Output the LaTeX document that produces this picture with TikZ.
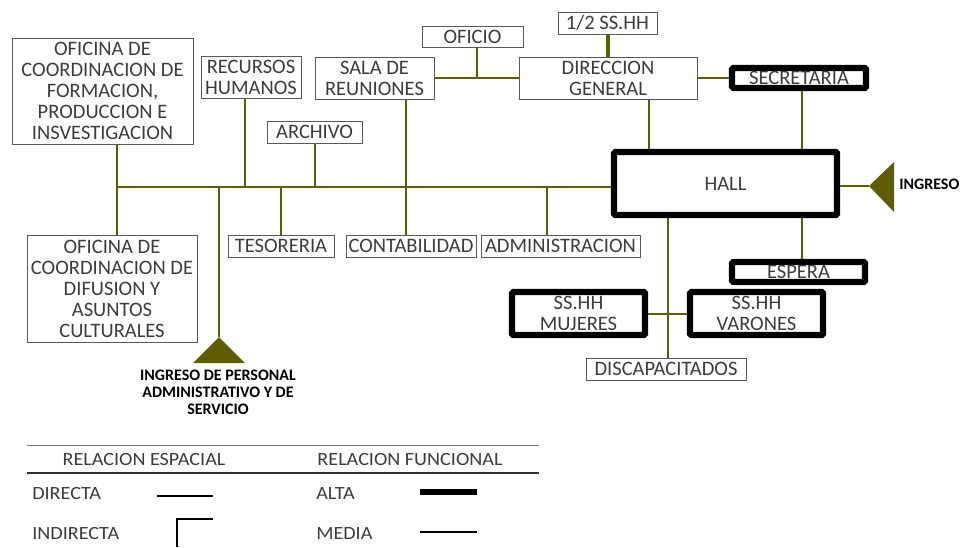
\documentclass[tikz,border=0pt]{standalone}
\usepackage{fontspec}
\setmainfont{Carlito}
\newfontfamily\legfont[FakeStretch=1.08]{Carlito}
\definecolor{oliva}{RGB}{94,94,0}
\definecolor{txt}{RGB}{60,60,60}
\begin{document}
\begin{tikzpicture}[x=0.75pt,y=-0.75pt,
  wh/.style 2 args={minimum width=#1*0.75pt,minimum height=#2*0.75pt},
  box/.style={draw=black!65,line width=0.75pt,inner sep=0pt,align=center,text=txt,
    font=\fontsize{15.4}{15.75}\selectfont},
  tbox/.style={draw=black,line width=4.6pt,rounded corners=1pt,inner sep=0pt,align=center,text=txt,
    font=\fontsize{15.4}{15.75}\selectfont},
  link/.style={draw=oliva,line width=1.5pt},
  thinlink/.style={draw=oliva,line width=1.1pt},
  biglink/.style={draw=oliva,line width=3pt},
  boldlbl/.style={inner sep=0pt,align=center,text=black,font=\bfseries\fontsize{12}{12.75}\selectfont},
  leg/.style={inner sep=0pt,anchor=west,text=txt,font=\legfont\fontsize{14}{14}\selectfont},
  leghead/.style={inner sep=0pt,text=txt,font=\legfont\fontsize{14}{14}\selectfont}
]
\useasboundingbox (0,0) rectangle (962,547);

% ---------- thin boxes ----------
\node[box,wh={181}{106}] (ofiform) at (102.5,91) {OFICINA DE\\COORDINACION DE\\FORMACION,\\PRODUCCION E\\INSVESTIGACION};
\node[box,wh={100}{42}] (rrhh) at (251,77) {RECURSOS\\HUMANOS};
\node[box,wh={95}{22}] (archivo) at (314.5,132) {ARCHIVO};
\node[box,wh={119}{42}] (sala) at (374.5,78) {SALA DE\\REUNIONES};
\node[box,wh={101}{21}] (oficio) at (472.5,36.5) {OFICIO};
\node[box,wh={99}{22}] (medioss) at (607.5,23) {1/2 SS.HH};
\node[box,wh={178}{42}] (direccion) at (608,78) {DIRECCION\\GENERAL};
\node[box,wh={170}{107}] (ofidif) at (112,288.5) {OFICINA DE\\COORDINACION DE\\DIFUSION Y\\ASUNTOS\\CULTURALES};
\node[box,wh={106}{22}] (tesoreria) at (281,246) {TESORERIA};
\node[box,wh={130}{22}] (contab) at (411,246) {CONTABILIDAD};
\node[box,wh={159}{22}] (admin) at (560.5,246) {ADMINISTRACION};
\node[box,wh={160}{22}] (discap) at (666,369) {DISCAPACITADOS};

% ---------- thick boxes ----------
\node[tbox,wh={134}{20}] (secretaria) at (799,78) {SECRETARIA};
\node[tbox,wh={223}{63}] (hall) at (725.5,183.5) {HALL};
\node[tbox,wh={133}{20}] (espera) at (798.5,272) {ESPERA};
\node[tbox,wh={133}{43}] (mujeres) at (578.5,313.5) {SS.HH\\MUJERES};
\node[tbox,wh={133}{43}] (varones) at (756.5,313.5) {SS.HH\\VARONES};

% ---------- bus coordinates ----------
\coordinate (b1) at (117,187);
\coordinate (b2) at (219,187);
\coordinate (b3) at (245,187);
\coordinate (b4) at (281,187);
\coordinate (b5) at (315,187);
\coordinate (b6) at (406,187);
\coordinate (b7) at (547,187);
\coordinate (j1) at (477,78);
\coordinate (cdh) at (649,120);
\coordinate (csh) at (802,120);
\coordinate (chd) at (668,250);
\coordinate (che) at (802,250);
\coordinate (cmv) at (668,314);

% ---------- connectors ----------
\draw[link] (b1) -- (b1 -| hall.west);
\draw[link] (ofiform.south -| b1) -- (ofidif.north -| b1);
\draw[link] (rrhh.south -| b3) -- (b3);
\draw[thinlink] (archivo.south -| b5) -- (b5);
\draw[link] (b4) -- (tesoreria.north -| b4);
\draw[thinlink] (sala.south -| b6) -- (contab.north -| b6);
\draw[thinlink] (b7) -- (admin.north -| b7);
\draw[thinlink] (sala.east) -- (direccion.west);
\draw[link] (j1) -- (oficio.south -| j1);
\draw[biglink] (medioss.south) -- (direccion.north -| medioss.south);
\draw[link] (direccion.south -| cdh) -- (hall.north -| cdh);
\draw[thinlink] (direccion.east) -- (secretaria.west);
\draw[link] (secretaria.south -| csh) -- (hall.north -| csh);
\draw[link] (hall.south -| che) -- (espera.north -| che);
\draw[link] (hall.south -| chd) -- (discap.north -| chd);
\draw[link] (mujeres.east |- cmv) -- (varones.west |- cmv);

% ---------- entrances ----------
\coordinate (tipR) at (869,186);
\coordinate (tipP) at (219,337);
\draw[link] (hall.east |- tipR) -- (tipR);
\draw[link] (b2) -- (tipP);
\fill[oliva] (tipR) -- (894,162) -- (894,212) -- cycle;
\fill[oliva] (tipP) -- (245,363) -- (193,363) -- cycle;
\node[boldlbl,anchor=west] (ingreso) at (899,184) {INGRESO};
\node[boldlbl] (ingpers) at (218,392) {INGRESO DE PERSONAL\\ADMINISTRATIVO Y DE\\SERVICIO};

% ---------- legend ----------
\draw[black!55,line width=0.75pt] (27,445) -- (539,445);
\draw[black!80,line width=1pt] (27,473) -- (539,473);
\node[leghead] (lesp) at (144,459) {RELACION ESPACIAL};
\node[leghead] (lfun) at (410,459) {RELACION FUNCIONAL};
\node[leg] (ldir) at (32,493) {DIRECTA};
\node[leg] (lind) at (32,533) {INDIRECTA};
\node[leg] (lalt) at (316,493) {ALTA};
\node[leg] (lmed) at (316,533) {MEDIA};
\draw[black,line width=1.2pt] (157,496) -- (213,496);
\draw[black,line width=1.6pt] (177,547) -- (177,519) -- (213,519);
\draw[black,line width=4pt] (420,492) -- (477,492);
\draw[black,line width=1.2pt] (420,532) -- (477,532);
\end{tikzpicture}
\end{document}
